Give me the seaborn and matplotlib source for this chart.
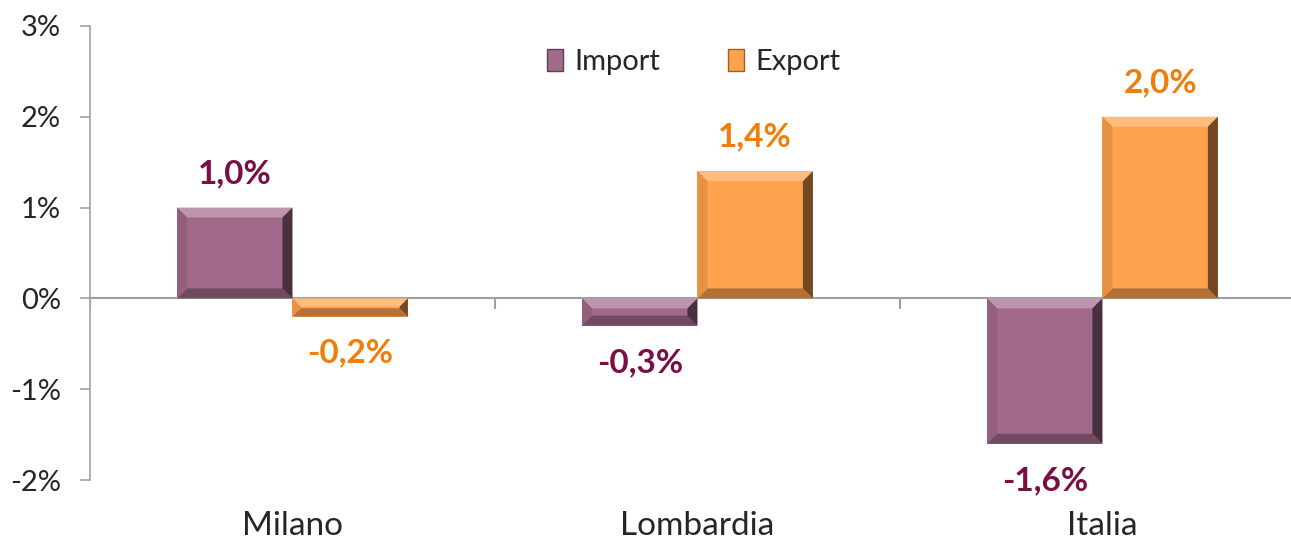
import matplotlib
matplotlib.use("Agg")
import matplotlib.pyplot as plt
import seaborn as sns
import pandas as pd
import numpy as np
from matplotlib.patches import Polygon, Patch
from matplotlib.colors import to_rgb

categories = ["Milano", "Lombardia", "Italia"]
series = ["Import", "Export"]
import_vals = [1.0, -0.3, -1.6]
export_vals = [-0.2, 1.4, 2.0]
yticks = [-2, -1, 0, 1, 2, 3]

colors = {"Import": "#A26A8A", "Export": "#FFA24D"}
label_colors = {"Import": "#7A0E45", "Export": "#F07E0A"}

df = pd.DataFrame({
    "cat": categories * 2,
    "series": ["Import"] * 3 + ["Export"] * 3,
    "val": import_vals + export_vals,
})

sns.set_theme(style="white")
plt.rcParams["font.family"] = ["Lato", "DejaVu Sans"]

fig = plt.figure(figsize=(12.91, 5.40), dpi=100)
ax = fig.add_axes([0.0697, 0.111, 0.9411, 0.841])

sns.barplot(data=df, x="cat", y="val", hue="series", order=categories,
            hue_order=series, palette=colors, width=0.57, gap=0,
            saturation=1, ax=ax, legend=False, linewidth=0)

ax.set_ylim(-2, 3)
ax.set_xlim(-0.5, 2.5)
ax.set_yticks(yticks)
ax.set_yticklabels([f"{t}%" for t in yticks], fontsize=21)
ax.set_xlabel("")
ax.set_ylabel("")
ax.tick_params(axis="x", length=0, pad=22, labelsize=24)
ax.tick_params(axis="y", left=True, length=7, width=1.2, color="#A0A0A0", pad=14)
for s in ["top", "right", "bottom"]:
    ax.spines[s].set_visible(False)
ax.spines["left"].set_color("#A0A0A0")
ax.spines["left"].set_linewidth(1.2)

ax.axhline(0, color="#A0A0A0", lw=1.5, zorder=1)
ax.vlines([-0.5, 0.5, 1.5], -0.12, 0, color="#A0A0A0", lw=1.5, zorder=1)

def shade(c, f):
    r, g, b = to_rgb(c)
    if f > 0:
        return (r + (1 - r) * f, g + (1 - g) * f, b + (1 - b) * f)
    return (r * (1 + f), g * (1 + f), b * (1 + f))

bx_px = 10
fig.canvas.draw()
trans = ax.transData
inv = trans.inverted()
for p, s in zip(list(ax.patches), [s for s in series for _ in categories]):
    x0, y0 = p.get_x(), p.get_y()
    w, h = p.get_width(), p.get_height()
    ylo, yhi = min(y0, y0 + h), max(y0, y0 + h)
    (px0, py0) = trans.transform((x0, ylo))
    (px1, py1) = trans.transform((x0 + w, yhi))
    b = min(bx_px, (py1 - py0) / 2.2, (px1 - px0) / 2.2)
    def d(px, py):
        return inv.transform((px, py))
    c = colors[s]
    outer = [d(px0, py0), d(px1, py0), d(px1, py1), d(px0, py1)]
    inner = [d(px0 + b, py0 + b), d(px1 - b, py0 + b), d(px1 - b, py1 - b), d(px0 + b, py1 - b)]
    faces = [
        ([outer[3], outer[2], inner[2], inner[3]], shade(c, 0.28)),
        ([outer[0], outer[1], inner[1], inner[0]], shade(c, -0.3)),
        ([outer[1], outer[2], inner[2], inner[1]], shade(c, -0.55)),
        ([outer[0], outer[3], inner[3], inner[0]], shade(c, -0.1)),
    ]
    for pts, fc in faces:
        ax.add_patch(Polygon(pts, closed=True, facecolor=fc, edgecolor="none", zorder=3))

bars = ax.patches[:6]
for p, s in zip(bars, [s for s in series for _ in categories]):
    v = p.get_height()
    xc = p.get_x() + p.get_width() / 2
    txt = f"{v:.1f}%".replace(".", ",")
    if v >= 0:
        ax.annotate(txt, (xc, v), xytext=(0, 14), textcoords="offset points",
                    ha="center", va="bottom", fontsize=24, fontweight="bold",
                    color=label_colors[s])
    else:
        ax.annotate(txt, (xc, v), xytext=(0, -16), textcoords="offset points",
                    ha="center", va="top", fontsize=24, fontweight="bold",
                    color=label_colors[s])

handles = [Patch(facecolor=colors[s], edgecolor=shade(colors[s], -0.4), linewidth=1) for s in series]
ax.legend(handles, series, loc="center", bbox_to_anchor=(0.497, 0.92),
          ncol=2, frameon=False, fontsize=21, handlelength=0.55, handleheight=0.75,
          handletextpad=0.4, columnspacing=2.3)

fig.savefig("out.png", dpi=100)
